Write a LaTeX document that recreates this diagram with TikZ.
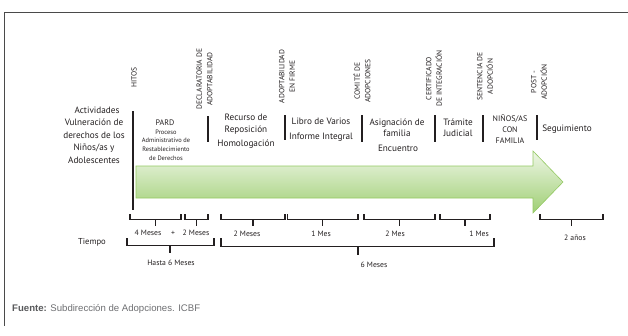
\documentclass[tikz,border=0pt]{standalone}
\usepackage{fontspec}
\setmainfont{PT Sans}
\newfontfamily\srcfont{Liberation Sans}
\usetikzlibrary{shapes.geometric}
\definecolor{ink}{HTML}{231F20}
\definecolor{framecol}{HTML}{4A4A4A}
\definecolor{arrowtop}{HTML}{EEF6E6}
\definecolor{arrowbot}{HTML}{9FCF74}
\definecolor{arrowedge}{HTML}{94C963}
\definecolor{srcgray}{HTML}{6D6E71}
\definecolor{srcdark}{HTML}{58595B}
\tikzset{
  txt/.style={text=ink, inner sep=0pt, align=center, font=\fontsize{9.2}{12.5}\selectfont},
  small/.style={text=ink, inner sep=0pt, align=center, font=\fontsize{6.4}{8.7}\selectfont},
  caps/.style={text=ink, inner sep=0pt, align=center, font=\fontsize{8}{11}\selectfont},
  hito/.style={text=ink, inner sep=0pt, align=center, rotate=90, font=\fontsize{7.5}{10.5}\selectfont},
  tlabel/.style={text=ink, inner sep=0pt, font=\fontsize{7.7}{9}\selectfont},
  bar/.style={draw=ink, line width=1.6pt},
  bracel/.style={draw=ink, line width=1.4pt},
}
\begin{document}
\begin{tikzpicture}[x=1pt,y=-1pt]
\useasboundingbox (0,0) rectangle (628,335);
% frame
\draw[framecol, line width=0.9pt] (628,12) -- (4.5,12) -- (4.5,326);
% arrow
\shade[top color=arrowtop, bottom color=arrowbot, draw=arrowedge, line width=0.6pt]
  (136,166) -- (533,166) -- (533,151) -- (563,182) -- (533,213) -- (533,198) -- (136,198) -- cycle;
% HITOS line
\coordinate (h1) at (133,111);
\coordinate (h2) at (133,210);
\draw[ink, line width=1.8pt] (h1) -- (h2);
% milestone bars
\foreach \x/\a/\b in {208/116/142, 285/115/140, 362/115/142, 435/115/142, 483/115/142, 537/115/140}
  \draw[bar] (\x,\a) -- (\x,\b);
% rotated milestone labels
\node[hito] (hitos) at (134,77.5) {HITOS};
\node[hito] (decl) at (204.5,79) {DECLARATORIA DE\\ADOPTABILIDAD};
\node[hito] (firme) at (287,76.5) {ADOPTABILIDAD\\EN FIRME};
\node[hito] (comite) at (362,81) {COMITÉ DE\\ADOPCIONES};
\node[hito] (cert) at (434,78.5) {CERTIFICADO\\DE INTEGRACIÓN};
\node[hito] (sent) at (485,76.5) {SENTENCIA DE\\ADOPCIÓN};
\node[hito] (post) at (539,82) {POST -\\ADOPCIÓN};
% activities
\node[txt] (act) at (94,135) {\hspace*{6pt}Actividades\\Vulneración de\\derechos de los\\Niños/as y\\Adolescentes};
\node[caps] (pard) at (165,123) {PARD};
\node[small] (proc) at (166,145) {Proceso\\Administrativo de\\Restablecimiento\\de Derechos};
\node[txt] (recurso) at (246,124) {Recurso de\\Reposición};
\node[txt] (homol) at (246,144.5) {Homologación};
\node[txt, font=\fontsize{9.2}{15.5}\selectfont] (libro) at (321,129.5) {Libro de Varios\\Informe Integral};
\node[txt, font=\fontsize{9.2}{11}\selectfont] (asig) at (397,127.5) {Asignación de\\familia};
\node[txt] (encu) at (398,148) {Encuentro};
\node[txt, font=\fontsize{9.2}{11}\selectfont] (tram) at (458,127.5) {Trámite\\Judicial};
\node[caps] (ninos) at (510,129.5) {NIÑOS/AS\\CON\\FAMILIA};
\node[txt] (segu) at (567,129) {Seguimiento};
% time braces (top row)
\foreach \p/\q in {130/181, 185/208, 221/285, 287.5/358, 364/435, 440/490, 540/603} {
  \draw[bracel] (\p,214) -- (\p,219.5) -- (\q,219.5) -- (\q,214);
  \draw[bracel] ({(\p+\q)/2},219.5) -- ({(\p+\q)/2},226);
}
% bottom braces
\draw[bracel] (127,238) -- (127,245.5) -- (214,245.5) -- (214,238);
\draw[bracel] (170,245.5) -- (170,253);
\draw[bracel] (221,238) -- (221,246.5) -- (494,246.5) -- (494,238);
\draw[bracel] (358,246.5) -- (358,255);
% time labels
\node[tlabel] (m1) at (148,233) {4 Meses};
\node[tlabel] (plus) at (173,233) {+};
\node[tlabel] (m2) at (196,233) {2 Meses};
\node[tlabel] (m3) at (247,234) {2 Meses};
\node[tlabel] (m4) at (321,234) {1 Mes};
\node[tlabel] (m5) at (395,234) {2 Mes};
\node[tlabel] (m6) at (479,234) {1 Mes};
\node[tlabel] (m7) at (575,238) {2 años};
\node[tlabel, font=\fontsize{8.6}{10}\selectfont] (tiempo) at (92,242) {Tiempo};
\node[tlabel] (hasta) at (171,262.5) {Hasta 6 Meses};
\node[tlabel] (seis) at (374,265) {6 Meses};
% source
\node[anchor=west, inner sep=0pt, font=\srcfont\fontsize{9.6}{11}\selectfont, text=srcgray] (src) at (12,309)
  {\textcolor{srcdark}{\textbf{Fuente:}} Subdirección de Adopciones. ICBF};
\end{tikzpicture}
\end{document}
